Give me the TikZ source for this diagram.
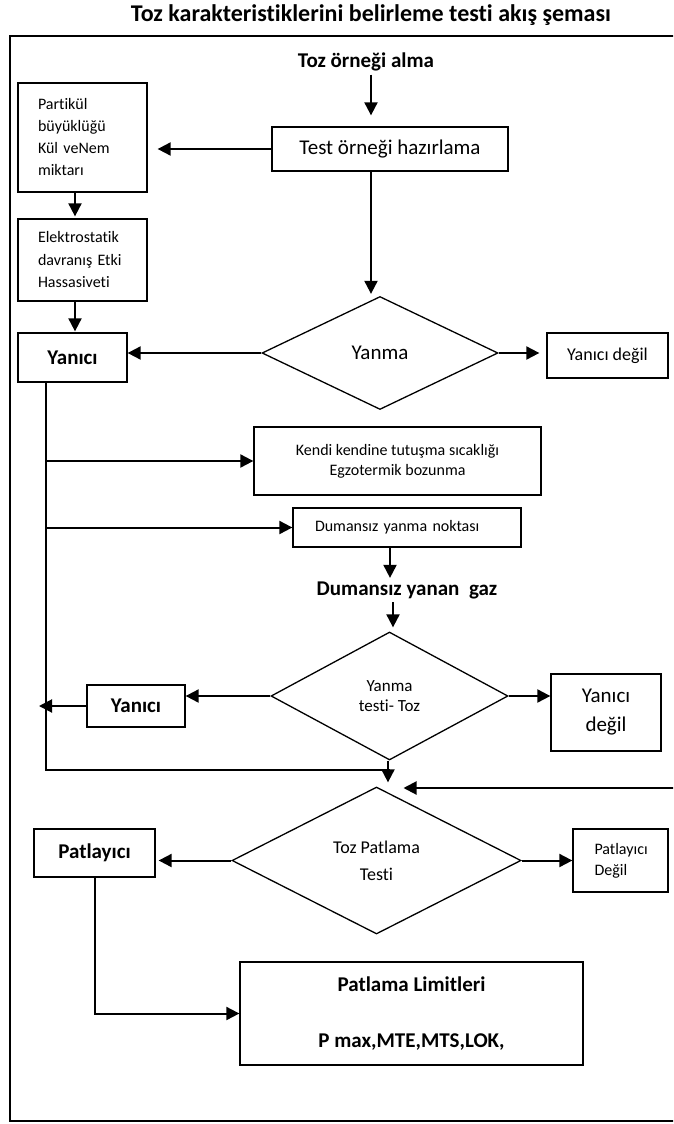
\documentclass[tikz,border=0pt]{standalone}
\usepackage{fontspec}
\setmainfont{Carlito}[Ligatures={NoCommon}]
\usetikzlibrary{shapes.geometric,arrows.meta}
\newcommand{\fsz}[2]{\fontsize{#1pt}{#2pt}\selectfont}
\begin{document}
\begin{tikzpicture}[x=1pt,y=-1pt,
  bx/.style={draw,line width=1.3pt,inner sep=0pt,align=center},
  dm/.style={diamond,draw,line width=1.3pt,inner sep=0pt,aspect=2,align=center},
  arr/.style={line width=2pt,-{Triangle[length=13pt,width=13pt]}},
  ln/.style={line width=2pt},
  fb/.style={font=\fsz{21}{25}\bfseries}]
\useasboundingbox (0,0) rectangle (673,1124);
\clip (0,0) rectangle (673,1124);
\node[font=\fsz{24}{28}\bfseries] (title) at (371,15) {Toz karakteristiklerini belirleme testi akış şeması};
\draw[line width=1.8pt] (10,36) rectangle (700,1121);

\node[fb] (toz) at (366,62) {Toz örneği alma};
\node[bx,minimum width=236pt,minimum height=44pt,font=\fsz{21}{25}] (test) at (390,149) {Test örneği hazırlama};
\node[bx,minimum width=129pt,minimum height=109pt,text width=89pt,align=left,font=\fsz{16}{22}] (part) at (82.5,137.5) {Partikül\\büyüklüğü\\Kül veNem\\miktarı};
\node[bx,minimum width=129pt,minimum height=82pt,text width=89pt,align=left,font=\fsz{16}{22.5}] (elek) at (82.5,260) {Elektrostatik\\davranış Etki\\Hassasiveti};
\node[bx,fb,minimum width=109pt,minimum height=49pt] (yan1) at (72.5,357.5) {Yanıcı};
\node[dm,minimum width=236pt,minimum height=113pt,font=\fsz{21}{25}] (d1) at (380,353) {Yanma};
\node[bx,minimum width=121pt,minimum height=45pt,font=\fsz{18}{22}] (ny1) at (607.5,355.5) {Yanıcı değil};
\node[bx,minimum width=287pt,minimum height=68pt,font=\fsz{16}{20}] (kendi) at (397.5,461) {Kendi kendine tutuşma sıcaklığı\\Egzotermik bozunma};
\node[bx,minimum width=228pt,minimum height=39pt,text width=184pt,align=left,font=\fsz{16}{20}] (duman) at (407,527.5) {Dumansız yanma noktası};
\node[fb] (gaz) at (407,590) {Dumansız yanan\ \ gaz};
\node[dm,minimum width=237pt,minimum height=128pt,font=\fsz{17}{20}] (d2) at (389.5,696) {Yanma\\testi- Toz};
\node[bx,fb,minimum width=98pt,minimum height=42pt] (yan2) at (136,706) {Yanıcı};
\node[bx,minimum width=110pt,minimum height=77pt,font=\fsz{21}{29}] (ny2) at (606,712.5) {Yanıcı\\değil};
\node[dm,minimum width=289pt,minimum height=147pt,font=\fsz{18}{27}] (d3) at (376.5,860.5) {Toz Patlama\\Testi};
\node[bx,fb,minimum width=121pt,minimum height=48pt] (pat) at (94.5,853) {Patlayıcı};
\node[bx,minimum width=95pt,minimum height=63pt,text width=52pt,align=left,font=\fsz{16}{21}] (npat) at (620.5,860.5) {Patlayıcı\\Değil};
\node[bx,minimum width=343pt,minimum height=103pt,font=\fsz{21}{56}\bfseries] (lim) at (411.5,1013.5) {Patlama Limitleri\\P max,MTE,MTS,LOK,};

\coordinate (c1) at (46,770);
\coordinate (rin) at (690,788);

\draw[arr,shorten >=11pt] ([xshift=5pt]toz.south) -- ([xshift=5pt]toz.south |- test.north);
\draw[arr,shorten >=10pt] (test.west) -- (test.west -| part.east);
\draw[arr,shorten >=2pt] ([xshift=-19pt]test.south) -- ([xshift=-19pt]test.south |- d1.north);
\draw[arr,shorten >=2pt] ([xshift=-7.5pt]part.south) -- ([xshift=-7.5pt]elek.north);
\draw[arr,shorten >=1pt] ([xshift=-7.5pt]elek.south) -- ([xshift=-7.5pt]elek.south |- yan1.north);
\draw[arr] (d1.west) -- (d1.west -| yan1.east);
\draw[arr,shorten >=7pt] (d1.east) -- (d1.east -| ny1.west);
\draw[ln] ([xshift=-26.5pt]yan1.south) -- (c1) -- (c1 -| d2.south);
\draw[arr] ([xshift=-26.5pt]yan1.south |- kendi.west) -- (kendi.west);
\draw[arr] ([xshift=-26.5pt]yan1.south |- duman.west) -- (duman.west);
\draw[arr] ([xshift=-17pt]duman.south) -- ([xshift=-17pt]duman.south |- gaz.north);
\draw[arr,shorten >=4pt] ([xshift=-14pt]gaz.south) -- ([xshift=-14pt]gaz.south |- d2.north);
\draw[arr] (d2.west) -- (d2.west -| yan2.east);
\draw[arr,shorten >=-7pt] (yan2.west) -- (yan2.west -| c1);
\draw[arr] (d2.east) -- (d2.east -| ny2.west);
\draw[arr,shorten >=4pt] ([xshift=-1.5pt]d2.south) -- ([xshift=-1.5pt]d2.south |- d3.north);
\draw[arr] (rin) -- ([xshift=27pt]d3.north |- rin);
\draw[arr,shorten >=3pt] (d3.west) -- (d3.west -| pat.east);
\draw[arr] (d3.east) -- (d3.east -| npat.west);
\draw[arr] (pat.south) -- (pat.south |- lim.west) -- (lim.west);
\end{tikzpicture}
\end{document}
